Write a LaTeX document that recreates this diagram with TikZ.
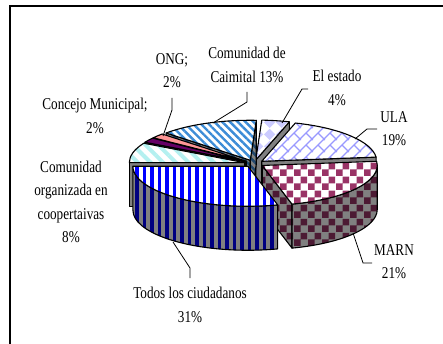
\documentclass[tikz,border=0pt]{standalone}
\usepackage{fontspec}
\setmainfont{Liberation Serif}
\usetikzlibrary{patterns,patterns.meta}

\definecolor{todosTop}{RGB}{0,0,255}
\definecolor{todosSide}{RGB}{0,0,128}
\definecolor{grayS}{RGB}{128,128,128}
\definecolor{marnTop}{RGB}{153,51,102}
\definecolor{marnSide}{RGB}{76,26,51}
\definecolor{ulaC}{RGB}{153,153,255}
\definecolor{estadoC}{RGB}{204,204,255}
\definecolor{caimC}{RGB}{60,140,215}
\definecolor{caimD}{RGB}{30,70,110}
\definecolor{orgC}{RGB}{180,240,240}
\definecolor{ongC}{RGB}{255,150,150}
\definecolor{ongD}{RGB}{128,75,75}
\definecolor{conC}{RGB}{102,0,102}
\definecolor{conD}{RGB}{51,0,51}

\pgfdeclarepatternformonly{vstripes}{\pgfqpoint{-0.5pt}{-0.5pt}}{\pgfqpoint{8pt}{8pt}}{\pgfqpoint{7.5pt}{7.5pt}}{%
  \pgfpathrectangle{\pgfqpoint{0pt}{-0.5pt}}{\pgfqpoint{3.6pt}{8.5pt}}\pgfusepath{fill}}
\pgfdeclarepatternformonly{checker}{\pgfqpoint{0pt}{0pt}}{\pgfqpoint{14pt}{14pt}}{\pgfqpoint{14pt}{14pt}}{%
  \pgfpathrectangle{\pgfqpoint{0pt}{0pt}}{\pgfqpoint{7pt}{7pt}}%
  \pgfpathrectangle{\pgfqpoint{7pt}{7pt}}{\pgfqpoint{7pt}{7pt}}\pgfusepath{fill}}
\pgfdeclarepatternformonly{diamonds}{\pgfqpoint{0pt}{0pt}}{\pgfqpoint{12pt}{12pt}}{\pgfqpoint{12pt}{12pt}}{%
  \pgfpathmoveto{\pgfqpoint{6pt}{0pt}}\pgfpathlineto{\pgfqpoint{12pt}{6pt}}%
  \pgfpathlineto{\pgfqpoint{6pt}{12pt}}\pgfpathlineto{\pgfqpoint{0pt}{6pt}}\pgfpathclose\pgfusepath{fill}}
\pgfdeclarepatternformonly{dbrick}{\pgfqpoint{-1pt}{-1pt}}{\pgfqpoint{13pt}{13pt}}{\pgfqpoint{12pt}{12pt}}{%
  \pgfsetlinewidth{1.2pt}%
  \pgfpathmoveto{\pgfqpoint{-1pt}{-1pt}}\pgfpathlineto{\pgfqpoint{13pt}{13pt}}%
  \pgfpathmoveto{\pgfqpoint{6pt}{6pt}}\pgfpathlineto{\pgfqpoint{13pt}{-1pt}}\pgfusepath{stroke}}

% pie helpers: centre (254,179.5), radii 115 x 40, depth 44
\newcommand\PieFace[2]{%
  \draw[#2] (254,179.5) -- ++({115*cos(#1)},{40*sin(#1)}) -- ++(0,-44) -- (254,135.5) -- cycle;}
\newcommand\PieSide[3]{%
  \draw[#3] ({254+115*cos(#1)},{179.5+40*sin(#1)}) arc[start angle=#1,end angle=#2,x radius=115pt,y radius=40pt]
    -- ++(0,-44) arc[start angle=#2,end angle=#1,x radius=115pt,y radius=40pt] -- cycle;}
\newcommand\PieSlice[4]{%
  \pgfmathsetmacro\pieBis{(#1+#2)/2}%
  \begin{scope}[shift={({10*cos(\pieBis)},{10*sin(\pieBis)*40/115})}]
    #4
    \draw[#3] (254,179.5) -- ++({115*cos(#1)},{40*sin(#1)})
      arc[start angle=#1,end angle=#2,x radius=115pt,y radius=40pt] -- cycle;
  \end{scope}}

\tikzset{
  edge/.style={draw=black, line width=1.1pt, line join=round},
  lbl/.style={align=center, inner sep=0pt, font=\fontsize{13.2}{18.6}\selectfont, yscale=1.25},
  leader/.style={draw=black, line width=0.8pt},
}

\begin{document}
\begin{tikzpicture}[x=1pt,y=1pt]
\useasboundingbox (0,0) rectangle (443,343);
\fill[white] (0,0) rectangle (443,343);
\clip (0,0) rectangle (443,343);
\draw[line width=2pt] (10,337) rectangle (480,-40);

% El estado
\PieSlice{73}{87}{edge, preaction={fill=white}, pattern=diamonds, pattern color=estadoC}%
  {\PieFace{73}{edge, fill=grayS}}
% Comunidad de Caimital
\PieSlice{87}{137}{edge, preaction={fill=white}, pattern={Lines[angle=-45,distance=5.5pt,line width=2.4pt]}, pattern color=caimC}%
  {\PieFace{137}{edge, preaction={fill=grayS}, pattern={Lines[angle=-45,distance=5.5pt,line width=2.4pt]}, pattern color=caimD}
   \PieFace{87}{edge, preaction={fill=grayS}, pattern={Lines[angle=-45,distance=5.5pt,line width=2.4pt]}, pattern color=caimD}}
% ULA
\PieSlice{6}{73}{edge, preaction={fill=white}, pattern=dbrick, pattern color=ulaC}%
  {\PieFace{6}{edge, fill=grayS}}
% ONG
\PieSlice{137}{144}{edge, fill=ongC}{\PieFace{144}{edge, fill=ongD}}
% Concejo Municipal
\PieSlice{144}{151}{edge, fill=conC}{\PieFace{151}{edge, fill=conD}}
% Comunidad organizada
\PieSlice{151}{180}{edge, preaction={fill=white}, pattern={Lines[angle=-45,distance=9pt,line width=4pt]}, pattern color=orgC}%
  {\PieFace{180}{edge, fill=grayS}}
% MARN
\PieSlice{-75}{6}{edge, preaction={fill=white}, pattern=checker, pattern color=marnTop}%
  {\PieFace{-75}{edge, preaction={fill=grayS}, pattern=checker, pattern color=marnSide}
   \PieSide{-75}{0}{edge, preaction={fill=grayS}, pattern=checker, pattern color=marnSide}}
% Todos los ciudadanos
\PieSlice{-180}{-75}{edge, preaction={fill=white}, pattern=vstripes, pattern color=todosTop}%
  {\PieSide{-180}{-75}{edge, preaction={fill=grayS}, pattern=vstripes, pattern color=todosSide}}

% labels
\node[lbl] (lONG) at (172,272) {ONG;\\2\%};
\node[lbl] (lCai) at (247,278) {Comunidad de\\Caimital 13\%};
\node[lbl] (lEst) at (337,255) {El estado\\4\%};
\node[lbl] (lULA) at (394,214) {ULA\\19\%};
\node[lbl] (lCon) at (95,227) {Concejo Municipal;\\2\%};
\node[lbl] (lOrg) at (71,141) {Comunidad\\organizada en\\coopertaivas\\8\%};
\node[lbl] (lTod) at (190,38) {Todos los ciudadanos\\31\%};
\node[lbl] (lMAR) at (394,81) {MARN\\21\%};

% leader lines
\coordinate (aONG) at (172,245); \coordinate (bONG) at (172,233); \coordinate (cONG) at (163,207);
\coordinate (aCai) at (247,251); \coordinate (bCai) at (247,241); \coordinate (cCai) at (213,220);
\coordinate (aEst) at (308,254); \coordinate (bEst) at (302,254); \coordinate (cEst) at (282,220);
\coordinate (aULA) at (377,214); \coordinate (bULA) at (367,214); \coordinate (cULA) at (355,204);
\coordinate (aMAR) at (372,80);  \coordinate (bMAR) at (363,80);  \coordinate (cMAR) at (353,110);
\coordinate (aTod) at (190,65);  \coordinate (bTod) at (190,75);  \coordinate (cTod) at (173,101);
\draw[leader] (aONG) -- (bONG) -- (cONG);
\draw[leader] (aCai) -- (bCai) -- (cCai);
\draw[leader] (aEst) -- (bEst) -- (cEst);
\draw[leader] (aULA) -- (bULA) -- (cULA);
\draw[leader] (aMAR) -- (bMAR) -- (cMAR);
\draw[leader] (aTod) -- (bTod) -- (cTod);
\end{tikzpicture}
\end{document}
